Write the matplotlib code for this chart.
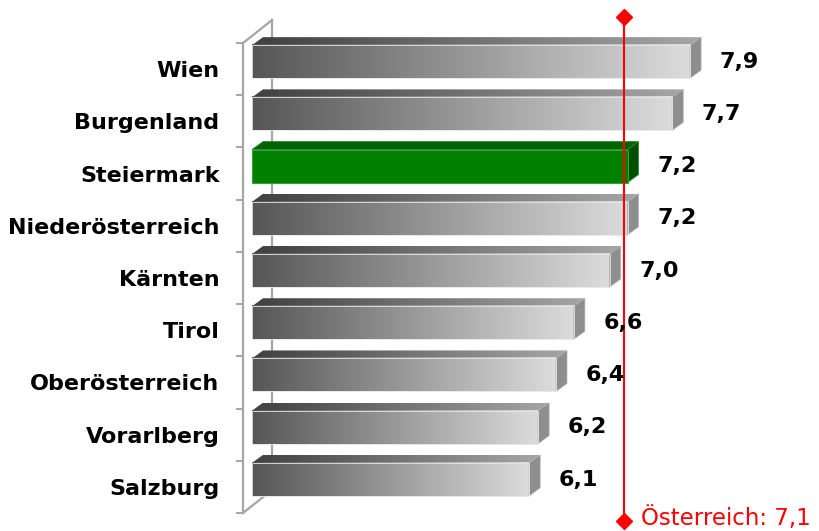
import numpy as np
import matplotlib.pyplot as plt
from matplotlib.colors import LinearSegmentedColormap
from matplotlib.patches import Polygon

# Daten
laender = ['Wien', 'Burgenland', 'Steiermark', 'Niederösterreich', 'Kärnten',
           'Tirol', 'Oberösterreich', 'Vorarlberg', 'Salzburg']
werte = [7.9, 7.7, 7.2, 7.2, 7.0, 6.6, 6.4, 6.2, 6.1]
beschriftung = ['7,9', '7,7', '7,2', '7,2', '7,0', '6,6', '6,4', '6,2', '6,1']
hervorheben = 'Steiermark'
oesterreich = 7.1
oesterreich_text = 'Österreich: 7,1'

x_start = 3.0          # Achsenbeginn der Balken
front_oben = -0.46     # Vorderseite relativ zur Kategoriemitte
front_unten = 0.172
tiefe_x = 0.123        # 3D-Tiefe in Datenkoordinaten
tiefe_y = -0.153

plt.rcParams['font.family'] = ['DejaVu Sans']

fig = plt.figure(figsize=(8.19, 5.31), dpi=100)
# Achse etwas hoeher als das Kategorienraster, damit die 3D-Oberseiten nicht abgeschnitten werden
ax = fig.add_axes([243 / 819, 18 / 531, 576 / 819, 506.5 / 531])

cmap_front = LinearSegmentedColormap.from_list('front', ['#565656', '#dcdcdc'])
cmap_top = LinearSegmentedColormap.from_list('top', ['#404040', '#a6a6a6'])
grad = np.linspace(0, 1, 256).reshape(1, -1)

x_min, x_max = 2.899, 9.342

# Rückwand (einfaches 3D-Gerüst)
wand_dx, wand_dy = 0.324, -0.44
grau = '#a6a6a6'
ax.plot([x_min + wand_dx, x_min + wand_dx], [-0.5 + wand_dy, 8.5 + wand_dy],
        color=grau, lw=1.6, zorder=1, clip_on=False)
ax.plot([x_min, x_min + wand_dx], [-0.5, -0.5 + wand_dy],
        color=grau, lw=1.6, zorder=1, clip_on=False)
ax.plot([x_min, x_min + wand_dx], [8.5, 8.5 + wand_dy],
        color=grau, lw=1.6, zorder=1, clip_on=False)

for i, (name, v, txt) in enumerate(zip(laender, werte, beschriftung)):
    y0 = i + front_oben
    y1 = i + front_unten
    top_poly = [(x_start, y0), (v, y0), (v + tiefe_x, y0 + tiefe_y),
                (x_start + tiefe_x, y0 + tiefe_y)]
    side_poly = [(v, y0), (v + tiefe_x, y0 + tiefe_y),
                 (v + tiefe_x, y1 + tiefe_y), (v, y1)]
    if name == hervorheben:
        ax.add_patch(Polygon(top_poly, closed=True, facecolor='#006400',
                             edgecolor='#2e8b2e', lw=0.6, zorder=3))
        ax.add_patch(Polygon(side_poly, closed=True, facecolor='#004f00',
                             edgecolor='#2e8b2e', lw=0.6, zorder=3))
        ax.add_patch(Polygon([(x_start, y0), (v, y0), (v, y1), (x_start, y1)],
                             closed=True, facecolor='#008000',
                             edgecolor='#3c9c3c', lw=0.8, zorder=3))
    else:
        p_top = Polygon(top_poly, closed=True, facecolor='none',
                        edgecolor='none', zorder=3)
        ax.add_patch(p_top)
        im = ax.imshow(grad, cmap=cmap_top, aspect='auto', zorder=3,
                       extent=(x_start, v + tiefe_x, y0, y0 + tiefe_y))
        im.set_clip_path(p_top)
        ax.imshow(grad, cmap=cmap_front, aspect='auto', zorder=3,
                  extent=(x_start, v, y1, y0))
        ax.add_patch(Polygon(side_poly, closed=True, facecolor='#8e8e8e',
                             edgecolor='#b0b0b0', lw=0.5, zorder=3))
        ax.add_patch(Polygon([(x_start, y0), (v, y0), (v, y1), (x_start, y1)],
                             closed=True, facecolor='none',
                             edgecolor='#e6e6e6', lw=0.6, zorder=3))
    ax.text(v + tiefe_x + 0.21, i - 0.14, txt, fontsize=16, fontweight='bold',
            ha='left', va='center', color='black', zorder=5)

# Österreich-Linie
x_ref = oesterreich + tiefe_x / 2
ax.plot([x_ref, x_ref], [-1.0, 8.65], color='#ff0000', lw=1.5, zorder=4,
        clip_on=False)
ax.plot([x_ref, x_ref], [-1.0, 8.65], linestyle='none', marker='D',
        markersize=8, color='#ff0000', zorder=4, clip_on=False)
ax.text(x_ref + 0.19, 8.6, oesterreich_text, color='#ff0000', fontsize=16.5,
        ha='left', va='center', zorder=5, clip_on=False)

ax.set_xlim(x_min, x_max)
ax.set_ylim(8.5, -1.2)

for s in ['top', 'right', 'bottom']:
    ax.spines[s].set_visible(False)
ax.spines['left'].set_color(grau)
ax.spines['left'].set_linewidth(1.6)
ax.spines['left'].set_bounds(-0.5, 8.5)
ax.set_xticks([])
ax.set_yticks(range(len(laender)))
ax.set_yticklabels(laender, fontsize=16, fontweight='bold')
ax.tick_params(axis='y', which='major', length=0, pad=17)
ax.set_yticks(np.arange(-0.5, 9.0, 1.0), minor=True)
ax.tick_params(axis='y', which='minor', length=5, width=1.4, color=grau,
               direction='out')

fig.savefig('out.png', dpi=100)
